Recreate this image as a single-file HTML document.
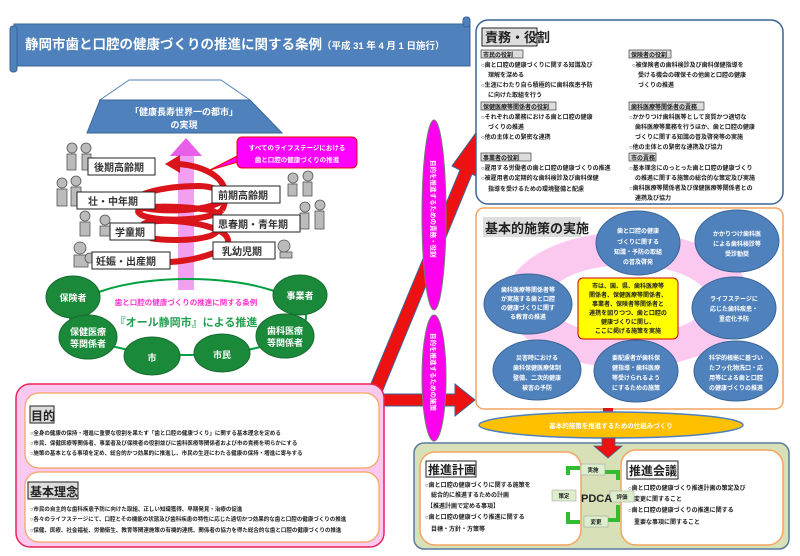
<!DOCTYPE html>
<html><head><meta charset="utf-8"><style>
html,body{margin:0;padding:0;background:#fff}
svg{display:block}
text{font-family:"Liberation Sans","Noto Sans CJK JP",sans-serif;font-weight:bold}
</style></head><body>
<svg width="800" height="556" viewBox="0 0 800 556" xmlns="http://www.w3.org/2000/svg">
<!-- title banner -->
<rect x="14" y="24" width="456" height="42" fill="#4F81BD" stroke="#3a6597"/>
<rect x="10" y="26" width="7" height="46" rx="3" fill="#4F81BD" stroke="#3a6597"/>
<rect x="463" y="17" width="7" height="10" rx="3" fill="#4F81BD" stroke="#3a6597"/>
<text x="25" y="49" font-size="13.5" fill="#fff">静岡市歯と口腔の健康づくりの推進に関する条例<tspan font-size="9.5">（平成 31 年 4 月 1 日施行）</tspan></text>

<!-- trapezoid -->
<polygon points="129,80 221,80 250,100 100,100" fill="#fff" stroke="#4F81BD"/>
<polygon points="100,100 250,100 282,133 87,133" fill="#4F81BD" stroke="#3a6597"/>
<text x="184" y="115" font-size="9" fill="#fff" text-anchor="middle">「健康長寿世界一の都市」</text>
<text x="184" y="128" font-size="9" fill="#fff" text-anchor="middle">の実現</text>

<!-- pink up arrow -->
<rect x="178" y="155" width="16" height="135" fill="#f29ff2"/>
<polygon points="170,156 186,138 202,156" fill="#e85ee8"/>

<!-- spiral -->
<g fill="none" stroke="#d9141a" stroke-width="6">
<path d="M225,197 C228,172 190,163 172,164"/>
<path d="M225,197 C220,212 150,214 136,205 C126,196 160,186 200,186 C225,187 228,200 222,210"/>
<path d="M222,210 C210,222 150,222 140,214"/>
<path d="M140,214 C128,205 175,205 210,210 C228,215 222,232 210,236 C190,242 160,240 150,238"/>
<path d="M142,228 C135,215 225,220 228,240 C230,250 200,260 170,262"/>
</g>
<polygon points="165,164 180,155 180,173" fill="#d9141a"/>

<!-- callout -->
<polygon points="210,170 245,160 245,152" fill="#ff00ff" stroke="#e00"/>
<rect x="237" y="137" width="120" height="31" rx="5" fill="#ff00ff" stroke="#e00"/>
<text x="297" y="150" font-size="6.5" fill="#fff" text-anchor="middle">すべてのライフステージにおける</text>
<text x="297" y="162" font-size="6.5" fill="#fff" text-anchor="middle">歯と口腔の健康づくりの推進</text>

<!-- people placeholders -->
<g fill="#bbb" stroke="#555" stroke-width="0.8">
<circle cx="72" cy="148" r="5"/><circle cx="86" cy="148" r="5"/><rect x="67" y="154" width="9" height="16"/><rect x="82" y="154" width="9" height="16"/>
<circle cx="62" cy="183" r="5"/><circle cx="76" cy="181" r="5"/><rect x="57" y="189" width="10" height="17"/><rect x="71" y="187" width="10" height="19"/>
<circle cx="85" cy="216" r="5"/><circle cx="105" cy="220" r="5"/><rect x="80" y="222" width="10" height="14"/><rect x="100" y="226" width="10" height="10"/>
<circle cx="80" cy="248" r="6"/><rect x="74" y="255" width="14" height="12"/><circle cx="90" cy="258" r="5"/>
<circle cx="293" cy="178" r="5"/><circle cx="308" cy="176" r="5"/><rect x="288" y="184" width="9" height="12"/><rect x="303" y="182" width="9" height="14"/>
<circle cx="305" cy="207" r="5"/><circle cx="320" cy="205" r="5"/><rect x="300" y="213" width="9" height="16"/><rect x="315" y="211" width="9" height="18"/>
<circle cx="284" cy="246" r="6"/><rect x="280" y="252" width="12" height="6"/>
</g>

<!-- life stage labels -->
<g fill="#fff" stroke="#222" stroke-width="1">
<rect x="88" y="158" width="67" height="17"/>
<rect x="77" y="192" width="78" height="17"/>
<rect x="110" y="223" width="45" height="17"/>
<rect x="92" y="252" width="78" height="17"/>
<rect x="212" y="186" width="68" height="17"/>
<rect x="213" y="215" width="87" height="17"/>
<rect x="213" y="242" width="62" height="17"/>
</g>
<g font-size="10" fill="#333" font-weight="normal">
<text x="94" y="171">後期高齢期</text>
<text x="88" y="205">壮・中年期</text>
<text x="115" y="236">学童期</text>
<text x="96" y="265">妊娠・出産期</text>
<text x="218" y="199">前期高齢期</text>
<text x="218" y="228">思春期・青年期</text>
<text x="222" y="255">乳幼児期</text>
</g>

<!-- green ring -->
<ellipse cx="188" cy="317" rx="118" ry="38" fill="none" stroke="#00a040" stroke-width="2"/>
<g fill="#1a8a3a" stroke="#176b30" stroke-width="1">
<ellipse cx="73" cy="297" rx="27" ry="21"/>
<ellipse cx="300" cy="295" rx="27" ry="20"/>
<ellipse cx="88" cy="337" rx="29" ry="22"/>
<ellipse cx="152" cy="356" rx="28" ry="19"/>
<ellipse cx="222" cy="353" rx="28" ry="19"/>
<ellipse cx="285" cy="336" rx="29" ry="22"/>
</g>
<g font-size="9" fill="#fff" text-anchor="middle">
<text x="73" y="301">保険者</text>
<text x="300" y="299">事業者</text>
<text x="88" y="335">保健医療</text><text x="88" y="347">等関係者</text>
<text x="152" y="361">市</text>
<text x="222" y="358">市民</text>
<text x="285" y="334">歯科医療</text><text x="285" y="346">等関係者</text>
</g>
<text x="186" y="305" font-size="7.5" fill="#ff33cc" text-anchor="middle">歯と口腔の健康づくりの推進に関する条例</text>
<text x="186" y="326" font-size="11" fill="#22a050" text-anchor="middle" font-weight="normal">『オール静岡市』による推進</text>

<!-- red arrows -->
<polygon points="365,398 460,170 452,166 478,130 480,178 472,174 378,402" fill="#ee1111" stroke="#3a6597" stroke-width="1"/>
<polygon points="384,394 455,394 455,384 475,400 455,416 455,406 384,406" fill="#ee1111" stroke="#3a6597" stroke-width="1"/>

<!-- magenta ellipses -->
<ellipse cx="434" cy="215" rx="12" ry="95" fill="#ff00ee" stroke="#777"/>
<ellipse cx="434" cy="378" rx="12" ry="63" fill="#ff00ee" stroke="#777"/>
<text font-size="6.5" fill="#fff" transform="translate(431,160) rotate(90)">目的を推進するための責務・役割</text>
<text font-size="6.5" fill="#fff" transform="translate(431,333) rotate(90)">目的を推進するための施策</text>

<!-- responsibilities box -->
<rect x="476" y="20" width="307" height="184" rx="12" fill="#fff" stroke="#3a6597" stroke-width="1.5"/>
<rect x="482" y="28" width="55" height="18" fill="#ddd" stroke="#222"/>
<text x="485" y="42" font-size="13" fill="#222">責務・役割</text>
<g font-size="6" fill="#222">
<rect x="481" y="50" width="42" height="8" fill="#ddd" stroke="#222" stroke-width="0.6"/><text x="483" y="57">市民の役割</text>
<text x="481" y="67">○歯と口腔の健康づくりに関する知識及び</text>
<text x="488" y="77">理解を深める</text>
<text x="481" y="87">○生涯にわたり自ら積極的に歯科疾患予防</text>
<text x="488" y="97">に向けた取組を行う</text>
<rect x="481" y="102" width="75" height="8" fill="#ddd" stroke="#222" stroke-width="0.6"/><text x="483" y="109">保健医療等関係者の役割</text>
<text x="481" y="119">○それぞれの業務における歯と口腔の健康</text>
<text x="488" y="129">づくりの推進</text>
<text x="481" y="139">○他の主体との緊密な連携</text>
<rect x="481" y="153" width="50" height="8" fill="#ddd" stroke="#222" stroke-width="0.6"/><text x="483" y="160">事業者の役割</text>
<text x="481" y="170">○雇用する労働者の歯と口腔の健康づくりの推進</text>
<text x="481" y="180">○被雇用者の定期的な歯科検診及び歯科保健</text>
<text x="488" y="191">指導を受けるための環境整備と配慮</text>
<rect x="629" y="50" width="42" height="8" fill="#ddd" stroke="#222" stroke-width="0.6"/><text x="631" y="57">保険者の役割</text>
<text x="632" y="67">○被保険者の歯科検診及び歯科保健指導を</text>
<text x="638" y="77">受ける機会の確保その他歯と口腔の健康</text>
<text x="638" y="87">づくりの推進</text>
<rect x="629" y="102" width="75" height="8" fill="#ddd" stroke="#222" stroke-width="0.6"/><text x="631" y="109">歯科医療等関係者の責務</text>
<text x="629" y="119">○かかりつけ歯科医等として良質かつ適切な</text>
<text x="635" y="129">歯科医療等業務を行うほか、歯と口腔の健康</text>
<text x="635" y="139">づくりに関する知識の普及啓発等の実施</text>
<text x="629" y="149">○他の主体との緊密な連携及び協力</text>
<rect x="629" y="153" width="27" height="8" fill="#ddd" stroke="#222" stroke-width="0.6"/><text x="631" y="160">市の責務</text>
<text x="629" y="170">○基本理念にのっとった歯と口腔の健康づくり</text>
<text x="635" y="180">の推進に関する施策の総合的な策定及び実施</text>
<text x="629" y="190">○歯科医療等関係者及び保健医療等関係者との</text>
<text x="635" y="200">連携及び協力</text>
</g>

<!-- basic policy box -->
<rect x="476" y="208" width="307" height="201" rx="8" fill="#fff" stroke="#f4a460" stroke-width="1.5"/>
<ellipse cx="628" cy="300" rx="123" ry="68" fill="#fbc8f0"/>
<ellipse cx="628" cy="300" rx="80" ry="35" fill="#fff"/>
<rect x="483" y="217" width="98" height="20" fill="#ddd"/>
<text x="485" y="233" font-size="13" fill="#222" font-weight="normal">基本的施策の実施</text>
<g fill="#4F81BD" stroke="#3a6597" stroke-width="1">
<ellipse cx="638" cy="243" rx="42" ry="32"/>
<ellipse cx="737" cy="241" rx="42" ry="31"/>
<ellipse cx="528" cy="304" rx="44" ry="30"/>
<ellipse cx="734" cy="308" rx="42" ry="31"/>
<ellipse cx="537" cy="370" rx="44" ry="30"/>
<ellipse cx="636" cy="371" rx="42" ry="31"/>
<ellipse cx="736" cy="371" rx="42" ry="30"/>
</g>
<rect x="578" y="278" width="100" height="61" rx="5" fill="#ffff00" stroke="#c00" stroke-width="1"/>
<g font-size="6" fill="#fff" text-anchor="middle">
<text x="638" y="233">歯と口腔の健康</text><text x="638" y="244">づくりに関する</text><text x="638" y="254">知識・予防の取組</text><text x="638" y="264">の普及啓発</text>
<text x="737" y="236">かかりつけ歯科医</text><text x="737" y="246">による歯科検診等</text><text x="737" y="256">受診勧奨</text>
<text x="528" y="292">歯科医療等関係者等</text><text x="528" y="301">が実施する歯と口腔</text><text x="528" y="310">の健康づくりに関す</text><text x="528" y="319">る教育の推進</text>
<text x="734" y="301">ライフステージに</text><text x="734" y="311">応じた歯科疾患・</text><text x="734" y="321">重症化予防</text>
<text x="537" y="360">災害時における</text><text x="537" y="370">歯科保健医療体制</text><text x="537" y="380">整備、二次的健康</text><text x="537" y="390">被害の予防</text>
<text x="636" y="360">要配慮者が歯科保</text><text x="636" y="370">健指導・歯科医療</text><text x="636" y="380">等受けられるよう</text><text x="636" y="390">にするための施策</text>
<text x="736" y="360">科学的根拠に基づい</text><text x="736" y="370">たフッ化物洗口・応</text><text x="736" y="380">用等による歯と口腔</text><text x="736" y="390">の健康づくりの推進</text>
</g>
<g font-size="6" fill="#222" text-anchor="middle">
<text x="628" y="288">市は、国、県、歯科医療等</text><text x="628" y="297">関係者、保健医療等関係者、</text><text x="628" y="306">事業者、保険者等関係者と</text><text x="628" y="315">連携を図りつつ、歯と口腔の</text><text x="628" y="324">健康づくりに関し、</text><text x="628" y="333">ここに掲げる施策を実施</text>
</g>
<rect x="603" y="408" width="10" height="10" fill="#d9141a"/>
<ellipse cx="611" cy="425" rx="132" ry="13" fill="#ffc000" stroke="#4F81BD" stroke-width="1.5"/>
<text x="611" y="428" font-size="6.5" fill="#fff" text-anchor="middle">基本的施策を推進するための仕組みづくり</text>

<!-- PDCA -->
<rect x="414" y="443" width="375" height="106" rx="10" fill="#d8e0b8" stroke="#5a7aa0" stroke-width="1.5"/>
<polygon points="602,438 615,438 615,446 622,446 608,458 594,446 602,446" fill="#ee1111" stroke="#3a6597" stroke-width="0.8"/>
<rect x="420" y="452" width="161" height="93" rx="15" fill="#fff" stroke="#f4a460" stroke-width="1.5"/>
<rect x="621" y="450" width="162" height="95" rx="15" fill="#fff" stroke="#f4a460" stroke-width="1.5"/>
<rect x="426" y="461" width="50" height="16" fill="#fff" stroke="#222"/>
<text x="428" y="474" font-size="12" fill="#222">推進計画</text>
<rect x="627" y="461" width="51" height="18" fill="#fff" stroke="#222"/>
<text x="629" y="475" font-size="12" fill="#222">推進会議</text>
<g font-size="6" fill="#222">
<text x="425" y="487">○歯と口腔の健康づくりに関する施策を</text>
<text x="431" y="497">総合的に推進するための計画</text>
<text x="427" y="508">【推進計画で定める事項】</text>
<text x="425" y="519">○歯と口腔の健康づくり推進に関する</text>
<text x="431" y="531">目標・方針・方策等</text>
<text x="628" y="490">○歯と口腔の健康づくり推進計画の策定及び</text>
<text x="634" y="501">変更に関すること</text>
<text x="628" y="512">○歯と口腔の健康づくりの推進に関する</text>
<text x="634" y="524">重要な事項に関すること</text>
</g>
<g fill="none" stroke="#33bb33" stroke-width="4">
<path d="M568,475 L568,468 L580,468"/>
<path d="M605,472 L618,472 L618,480"/>
<path d="M618,505 L618,520 L608,520"/>
<path d="M580,522 L568,522 L568,512"/>
</g>
<g fill="#ddeecc" stroke="#999" stroke-width="0.5">
<rect x="581" y="464" width="24" height="11"/>
<rect x="552" y="490" width="24" height="11"/>
<rect x="610" y="491" width="24" height="11"/>
<rect x="584" y="516" width="24" height="11"/>
</g>
<g font-size="5.5" fill="#222" text-anchor="middle">
<text x="593" y="472">実施</text><text x="564" y="498">策定</text><text x="622" y="499">評価</text><text x="596" y="524">変更</text>
</g>
<text x="581" y="502" font-size="11" fill="#222">PDCA</text>

<!-- left purpose box -->
<rect x="16" y="384" width="368" height="163" rx="14" fill="#fbc8f0" stroke="#ee2255" stroke-width="1.5"/>
<rect x="25" y="393" width="354" height="75" rx="14" fill="#fff" stroke="#f4a460" stroke-width="1.2"/>
<rect x="25" y="472" width="354" height="70" rx="14" fill="#fff" stroke="#f4a460" stroke-width="1.2"/>
<rect x="30" y="406" width="24" height="17" fill="#ddd" stroke="#222"/>
<text x="31" y="420" font-size="12" fill="#222">目的</text>
<rect x="28" y="482" width="50" height="17" fill="#ddd" stroke="#222"/>
<text x="30" y="496" font-size="12" fill="#222">基本理念</text>
<g font-size="5.5" fill="#222">
<text x="30" y="435">○全身の健康の保持・増進に重要な役割を果たす「歯と口腔の健康づくり」に関する基本理念を定める</text>
<text x="30" y="445">○市民、保健医療等関係者、事業者及び保険者の役割並びに歯科医療等関係者および市の責務を明らかにする</text>
<text x="30" y="455">○施策の基本となる事項を定め、総合的かつ効果的に推進し、市民の生涯にわたる健康の保持・増進に寄与する</text>
<text x="30" y="511">○市民の自主的な歯科疾患予防に向けた取組、正しい知識獲得、早期発見・治療の促進</text>
<text x="30" y="521">○各々のライフステージにて、口腔とその機能の状態及び歯科疾患の特性に応じた適切かつ効果的な歯と口腔の健康づくりの推進</text>
<text x="30" y="532">○保健、医療、社会福祉、労働衛生、教育等関連施策の有機的連携、関係者の協力を得た総合的な歯と口腔の健康づくりの推進</text>
</g>
</svg>
</body></html>
